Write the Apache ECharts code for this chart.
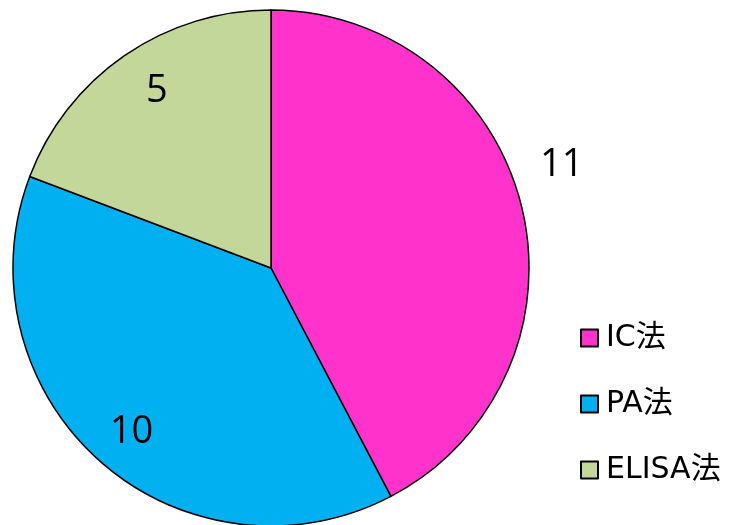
<!DOCTYPE html>
<html lang="ja">
<head>
    <meta charset="utf-8">
    <title>pie</title>
    <script src="https://cdn.jsdelivr.net/npm/echarts@6/dist/echarts.min.js"></script>
    <style>
        html, body { margin: 0; padding: 0; background: #fff; }
        #main { width: 735px; height: 525px; }
    </style>
</head>
<body>
    <div id="main"></div>
    <script>
        var names = ['IC法', 'PA法', 'ELISA法'];
        var values = [11, 10, 5];
        var colors = ['#ff33cc', '#00b0f0', '#c4d79b'];
        // which slices carry their number outside the pie
        var outsideLabel = [true, false, false];

        var pieData = [];
        var ringData = [];
        for (var i = 0; i < names.length; i++) {
            pieData.push({
                name: names[i],
                value: values[i],
                itemStyle: { color: colors[i] },
                label: { show: outsideLabel[i] }
            });
            ringData.push({
                name: names[i],
                value: values[i],
                label: { show: !outsideLabel[i] }
            });
        }

        var myChart = echarts.init(document.getElementById('main'));
        var option = {
            backgroundColor: '#fff',
            animation: false,
            legend: {
                orient: 'vertical',
                left: 575,
                top: 318,
                icon: 'rect',
                itemWidth: 17,
                itemHeight: 17,
                itemGap: 36,
                data: names,
                itemStyle: { borderColor: '#000', borderWidth: 2 },
                textStyle: {
                    fontFamily: 'DejaVu Sans, Noto Sans CJK JP',
                    fontSize: 30,
                    lineHeight: 30,
                    padding: [0, 0, 0, 3],
                    color: '#000'
                }
            },
            series: [
                {
                    type: 'pie',
                    center: [271, 268],
                    radius: 258,
                    startAngle: 90,
                    clockwise: true,
                    itemStyle: {
                        borderColor: '#000',
                        borderWidth: 1.5
                    },
                    emphasis: { disabled: true },
                    label: {
                        position: 'outside',
                        formatter: '{c}',
                        fontFamily: 'Open Sans',
                        fontSize: 38,
                        color: '#000'
                    },
                    labelLine: { show: false, length: 20, length2: 0 },
                    labelLayout: function (params) {
                        return { dx: -6, dy: -36 };
                    },
                    data: pieData
                },
                {
                    // transparent ring used only to place the inner numbers
                    type: 'pie',
                    center: [271, 268],
                    radius: [166, 258],
                    startAngle: 90,
                    clockwise: true,
                    silent: true,
                    itemStyle: { color: 'rgba(0,0,0,0)' },
                    emphasis: { disabled: true },
                    label: {
                        position: 'inside',
                        formatter: '{c}',
                        fontFamily: 'Open Sans',
                        fontSize: 38,
                        color: '#000'
                    },
                    labelLayout: function (params) {
                        return params.dataIndex === 2 ? { dx: 8, dy: 0 } : { dx: 3, dy: 3 };
                    },
                    data: ringData
                }
            ]
        };
        myChart.setOption(option);
    </script>
</body>
</html>
